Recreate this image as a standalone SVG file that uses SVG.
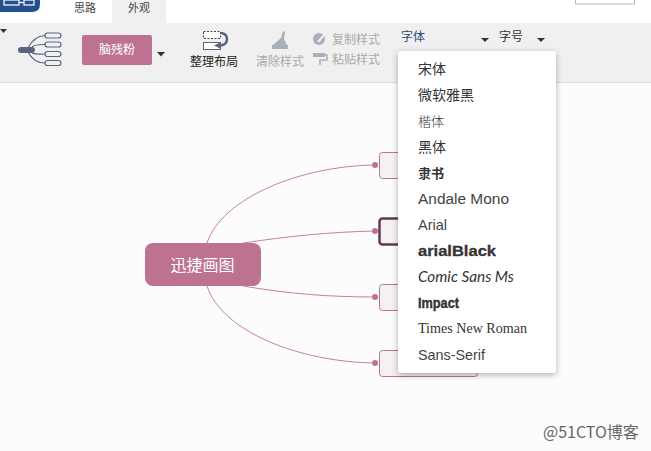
<svg xmlns="http://www.w3.org/2000/svg" width="651" height="451" viewBox="0 0 651 451">
<style>
text{font-family:"Noto Sans CJK SC","Liberation Sans",sans-serif;}
.tab{font-size:11px;fill:#444}
.tb{font-size:12px;fill:#333}
.dis{font-size:12px;fill:#aaa}
.m{font-size:14px;fill:#333}
.lat{font-family:"Liberation Sans",sans-serif;fill:#444}
.node{fill:#f6eff4;stroke:#bd7292;stroke-width:1}
.conn{fill:none;stroke:#c5819e;stroke-width:1}
.dot{fill:#bd7292}
.caret{fill:#333}
.ic{fill:none;stroke:#5a6580;stroke-width:1.2}
</style>
<defs>
<filter id="sh" x="-10%" y="-5%" width="120%" height="112%"><feDropShadow dx="0" dy="2" stdDeviation="3" flood-color="#000" flood-opacity="0.3"/></filter>
</defs>
<rect width="651" height="451" fill="#fcfcfc"/>
<g id="topbar">
<rect width="651" height="23" fill="#fff"/>
<rect x="112" y="0" width="54" height="23" fill="#f0f0f0"/>
<path d="M0 0H40V4Q40 12 32 12H0Z" fill="#24508f"/>
<rect x="4" y="0" width="15" height="5" fill="none" stroke="#fff" stroke-width="1.2"/>
<path d="M19 2.500H24" stroke="#fff" stroke-width="1.2"/>
<rect x="24" y="0" width="10" height="5" fill="none" stroke="#fff" stroke-width="1.2"/>
<text class="tab" x="85" y="12" text-anchor="middle">思路</text>
<text class="tab" x="139" y="12" text-anchor="middle">外观</text>
<rect x="575.500" y="-2" width="59" height="6" fill="#fff" stroke="#bbb"/>
</g>
<g id="toolbar">
<rect x="0" y="23" width="651" height="59" fill="#f0f0f0"/>
<rect x="0" y="82" width="651" height="1" fill="#ddd"/>
<path d="M0 29H7L3.500 33Z" class="caret"/>
<g id="structure-icon">
<rect x="18" y="47" width="17" height="6" rx="3" fill="#5a6580"/>
<path class="ic" d="M28 48C32 40 37 36 45 35.500M32 47C36 44 40 44.500 45 44.500M32 53C36 55 40 54 45 54M28 52C32 60 37 63 45 63"/>
<rect class="ic" x="45" y="33" width="16" height="5" rx="2.500" fill="#fff"/>
<rect class="ic" x="45" y="42" width="16" height="5" rx="2.500" fill="#fff"/>
<rect class="ic" x="45" y="51.500" width="16" height="5" rx="2.500" fill="#fff"/>
<rect class="ic" x="45" y="60.500" width="16" height="5" rx="2.500" fill="#fff"/>
</g>
<g id="theme-button">
<rect x="82" y="35" width="70" height="30" rx="2" fill="#bd7292"/>
<text x="117" y="54" text-anchor="middle" font-size="12" fill="#fff">脑残粉</text>
<path d="M157 52H165L161 56.500Z" class="caret"/>
</g>
<g id="layout-button">
<rect x="203.500" y="31.500" width="17" height="7" fill="#fff" stroke="#444" stroke-dasharray="2 1.500"/>
<rect x="203.500" y="42.500" width="17" height="7" fill="#fff" stroke="#5a6580"/>
<path d="M221 33C229 34 229 44 221 45.500" fill="none" stroke="#5a6580" stroke-width="2.500"/>
<path d="M214 45.500L221 42V49Z" fill="#5a6580"/>
<text x="214" y="66" text-anchor="middle" font-size="12" fill="#222">整理布局</text>
</g>
<g id="clear-style">
<path d="M281 38L283 31L285 32L284 39L287 45H273Z" fill="#aab0bb"/>
<rect x="272" y="45" width="16" height="4" fill="#aab0bb"/>
<text class="dis" x="280" y="66" text-anchor="middle">清除样式</text>
</g>
<g id="copy-paste">
<circle cx="319" cy="39" r="6" fill="#aab0bb"/>
<path d="M318 42L325 34" stroke="#f0f0f0" stroke-width="2"/>
<rect x="313" y="53" width="12" height="4" fill="#aab0bb"/>
<path d="M325 55H327V60H320V65" fill="none" stroke="#aab0bb" stroke-width="1.500"/>
<text class="dis" x="332" y="44">复制样式</text>
<text class="dis" x="332" y="64">粘贴样式</text>
</g>
<g id="font-select">
<text class="tb" x="401" y="41" style="fill:#2b4a77">字体</text>
<path d="M481 38H489L485 42Z" class="caret"/>
</g>
<g id="size-select">
<text class="tb" x="499" y="41">字号</text>
<path d="M537 38H545L541 42Z" class="caret"/>
</g>
</g>
<g id="connectors">
<path class="conn" d="M207 243C222 198 300 166 375 165"/>
<path class="conn" d="M243 243C290 236 330 232 375 231"/>
<path class="conn" d="M243 286C290 294 330 297 375 297"/>
<path class="conn" d="M207 286C222 332 300 362 375 363"/>
<circle class="dot" cx="375" cy="165" r="3"/>
<circle class="dot" cx="375" cy="231" r="3"/>
<circle class="dot" cx="375" cy="297" r="3"/>
<circle class="dot" cx="375" cy="363" r="3"/>
</g>
<g id="root">
<rect x="145" y="243" width="116" height="43" rx="8" fill="#bd7292"/>
<text x="202.500" y="271" text-anchor="middle" font-size="16" fill="#fff">迅捷画图</text>
</g>
<g id="node1"><rect class="node" x="379.500" y="152.500" width="98" height="26" rx="3"/></g>
<g id="node2"><rect x="379.500" y="218.500" width="98" height="26" rx="3" fill="#f6eff4" stroke="#5f3a50" stroke-width="2.500"/></g>
<g id="node3"><rect class="node" x="379.500" y="284.500" width="98" height="26" rx="3"/></g>
<g id="node4"><rect class="node" x="379.500" y="350.500" width="98" height="26" rx="3"/></g>
<g id="font-menu">
<rect x="398" y="51" width="158" height="322" rx="3" fill="#fff" filter="url(#sh)"/>
<text class="m" x="418" y="74">宋体</text>
<text class="m" x="418" y="100">微软雅黑</text>
<text x="418" y="126" font-size="13" fill="#333" style="font-family:'Noto Sans CJK JP',sans-serif;font-weight:300">楷体</text>
<text class="m" x="418" y="152">黑体</text>
<text x="418" y="178" font-size="13" font-weight="700" fill="#333" style="font-family:'Noto Sans CJK TC',sans-serif">隶书</text>
<text class="lat" x="418" y="204" textLength="91" lengthAdjust="spacingAndGlyphs" style="font-size:15.500px">Andale Mono</text>
<text class="lat" x="418" y="230" style="font-size:14.500px">Arial</text>
<text x="418" y="256" fill="#333" font-weight="700" textLength="78" lengthAdjust="spacingAndGlyphs" style="font-family:'Liberation Sans',sans-serif;font-size:15px;stroke:#333;stroke-width:.3">arialBlack</text>
<text x="418" y="282" fill="#333" font-style="italic" textLength="96" lengthAdjust="spacingAndGlyphs" style="font-family:'Lato',sans-serif;font-size:15px">Comic Sans Ms</text>
<text x="418" y="308" fill="#333" font-weight="700" textLength="41" lengthAdjust="spacingAndGlyphs" style="font-family:'Liberation Sans',sans-serif;font-size:15px;stroke:#333;stroke-width:.4">Impact</text>
<text x="418" y="333" fill="#333" textLength="109" lengthAdjust="spacingAndGlyphs" style="font-family:'Liberation Serif',serif;font-size:14.500px">Times New Roman</text>
<text class="lat" x="418" y="360" textLength="67" lengthAdjust="spacingAndGlyphs" style="font-size:15px">Sans-Serif</text>
</g>
<text x="543" y="438" font-size="16" fill="#666">@51CTO博客</text>
</svg>
